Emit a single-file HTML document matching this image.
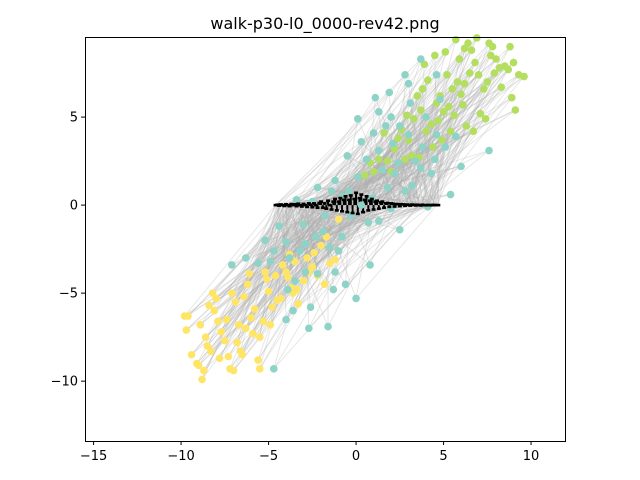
<!DOCTYPE html>
<html><head><meta charset="utf-8"><style>
body{margin:0;background:#fff;}
svg{display:block;font-family:"DejaVu Sans","Liberation Sans",sans-serif;}
</style></head><body>
<svg id="chart" width="640" height="480">
<text x="325" y="29" text-anchor="middle" font-size="16">walk-p30-l0_0000-rev42.png</text>
<g id="lines"></g>
<g id="pts"></g>
<rect x="85.5" y="37.5" width="480" height="404" fill="none" stroke="#000" stroke-width="1"/>
<g id="axes"></g>
</svg>
<script>
const xTicks=[-15,-10,-5,0,5,10];
const yTicks=[5,0,-5,-10];
const yellowX=[-9.8,-9.6,-9.7,-9.1,-9.0,-8.8,-8.7,-8.5,-8.6,-8.3,-8.2,-8.0,-8.1,-7.9,-7.7,-7.5,-7.3,-7.2,-7.0,-6.9,-6.7,-6.6,-6.5,-6.3,-6.2,-6.0,-5.8,-5.6,-5.5,-5.3,-5.2,-5.0,-4.8,-4.5,-4.3,-4.0,-3.9,-3.7,-3.5,-3.3,-3.0,-2.7,-2.5,-2.2,-2.0,-1.8,-1.5,-1.2,-1.7,-3.8,-4.6,-6.8,-7.8,-5.9,-8.9,-6.4,-4.2,-2.8,-1.0,-5.5,-3.4,-7.4,-9.4,-4.9,-2.4,-6.1,-3.6,-5.1,-7.1,-8.4];
const yellowY=[-6.3,-6.3,-7.1,-9.0,-9.1,-9.9,-9.4,-8.0,-7.5,-8.3,-5.0,-5.3,-6.0,-6.6,-7.2,-7.7,-8.6,-9.3,-9.4,-5.5,-6.8,-8.3,-8.5,-7.0,-4.5,-6.4,-5.9,-8.8,-7.5,-6.6,-3.8,-4.9,-5.8,-5.4,-5.3,-3.8,-4.1,-4.7,-3.2,-5.6,-4.3,-3.8,-3.5,-4.0,-2.3,-4.5,-3.3,-3.1,-1.8,-2.8,-4.0,-7.8,-8.7,-7.3,-6.8,-5.2,-3.4,-3.0,-0.8,-9.3,-4.8,-6.5,-8.5,-6.8,-2.7,-3.9,-5.0,-4.2,-5.0,-5.7];
const greenX=[5.7,6.2,6.6,7.6,7.8,8.8,9.3,9.1,8.5,8.2,8.0,7.5,7.3,7.0,6.8,6.5,6.2,6.0,5.8,5.5,5.3,5.0,4.8,4.6,4.3,4.0,3.7,3.5,3.3,3.0,2.8,2.6,2.2,1.8,1.6,1.3,1.0,0.8,0.5,2.4,3.9,4.5,5.1,5.9,6.9,7.9,8.3,9.0,9.6,6.7,7.1,6.3,5.6,4.9,4.4,3.6,3.2,2.0,5.2,4.1,3.8,7.4,8.7,6.1,5.4,2.9,4.7,7.7,6.4,8.9];
const greenY=[9.4,8.9,8.8,9.2,9.0,9.0,7.4,5.4,7.9,7.8,8.3,7.0,6.6,7.4,8.1,7.5,6.9,6.3,7.0,6.6,5.6,5.3,6.2,5.8,4.6,4.2,5.4,6.2,4.9,3.7,2.6,4.3,3.2,2.5,4.1,2.6,1.9,2.4,1.7,3.8,8.0,8.5,8.7,8.3,9.5,7.5,6.7,8.1,7.3,4.2,5.2,4.5,5.1,3.7,3.3,2.7,2.8,1.9,7.4,7.1,6.6,4.9,7.7,5.7,4.2,5.1,4.8,8.5,9.2,6.1];
const tealX=[3.7,2.8,3.0,1.9,1.1,1.3,2.0,2.5,0.1,0.3,1.0,1.7,-0.5,-1.2,-2.2,-3.4,-4.4,-5.2,-4.0,-3.2,-4.9,-5.6,-7.1,-6.3,-3.8,-2.9,-1.9,-0.8,-2.2,-1.3,-2.6,-3.6,-4.0,-2.7,-1.6,-0.6,0.0,0.8,-4.7,-3.5,-1.0,0.7,1.3,2.5,4.1,5.4,4.3,3.7,2.8,1.8,0.4,-0.4,2.2,3.4,4.5,5.1,6.0,7.6,5.7,4.6,3.8,3.0,2.1,1.3,0.6,0.1,1.5,-0.8,-2.5,-1.8,-1.4,-0.3,0.9,2.0,3.2,-3.0,-2.3,-1.5,-2.9,-4.7,-3.9,-1.2,4.0,4.8,3.1,2.4,4.6,0.3];
const tealY=[8.3,7.4,6.9,6.4,6.1,5.3,5.0,4.5,4.9,3.6,4.1,4.5,2.8,1.4,1.0,0.3,-1.2,-2.0,-2.1,-2.6,-3.2,-3.3,-3.4,-3.0,-3.0,-2.2,-1.5,-1.8,-3.9,-4.8,-5.8,-6.0,-6.5,-7.0,-6.9,-4.5,-5.3,-3.4,-9.3,-4.3,-2.6,-1.0,-0.9,-1.4,-0.1,0.6,1.8,2.1,0.8,1.0,0.2,0.8,1.8,2.5,2.6,3.3,2.2,3.1,3.9,4.0,3.3,4.0,3.5,3.1,2.6,1.6,2.0,0.5,0.2,-0.6,0.8,-0.6,0.4,-0.2,1.1,-1.1,-1.8,-2.4,-3.8,-2.6,-4.8,-3.8,5.0,6.0,5.8,2.4,7.4,0.0];
const blackX=[-4.6,-4.5,-4.4,-4.3,-4.2,-4.1,-4.0,-3.9,-3.8,-3.7,-3.6,-3.5,-3.4,-3.3,-3.2,-3.1,-3.0,-2.9,-2.8,-2.7,-2.6,-2.5,-2.4,-2.3,-2.2,-2.1,-2.0,-1.9,-1.8,-1.7,-1.6,-1.5,-1.4,-1.3,-1.2,-1.1,-1.0,-0.9,-0.8,-0.7,-0.6,-0.5,-0.4,-0.3,-0.2,-0.1,0.0,0.1,0.2,0.3,0.4,0.5,0.6,0.7,0.8,0.9,1.0,1.1,1.2,1.3,1.4,1.5,1.6,1.7,1.8,1.9,2.0,2.1,2.2,2.3,2.4,2.5,2.6,2.7,2.8,2.9,3.0,3.1,3.2,3.3,3.4,3.5,3.6,3.7,3.8,3.9,4.0,4.1,4.2,4.3,4.4,4.5,4.6,4.7];
const blackY=[0.0,0.02,-0.03,0.04,0.0,-0.05,0.05,0.0,-0.06,0.06,0.0,0.05,-0.06,0.08,0.0,-0.08,0.07,0.0,-0.1,0.1,0.02,-0.12,0.1,0.0,-0.15,0.12,0.2,-0.15,0.1,-0.2,0.25,0.0,-0.25,0.2,0.35,-0.3,0.2,0.4,-0.35,0.3,0.5,-0.4,0.3,0.55,-0.45,0.35,0.7,-0.5,0.4,0.6,-0.4,0.3,0.5,-0.3,0.25,0.35,-0.25,0.2,0.25,-0.2,0.15,0.2,-0.15,0.1,0.12,-0.1,0.1,0.08,-0.08,0.06,0.05,-0.06,0.05,0.04,-0.04,0.03,0.02,-0.03,0.03,0.02,-0.02,0.02,0.0,-0.02,0.02,0.0,-0.01,0.01,0.0,-0.01,0.01,0.0,0.0,0.0];
const X0=85,X1=565,XMIN=-15.49,XMAX=11.94,Y0=37,Y1=441,YMIN=-13.4,YMAX=9.55;
const sx=v=>X0+(v-XMIN)/(XMAX-XMIN)*(X1-X0);
const sy=v=>Y1-(v-YMIN)/(YMAX-YMIN)*(Y1-Y0);
const NS="http://www.w3.org/2000/svg";
const L=document.getElementById('lines'),P=document.getElementById('pts'),A=document.getElementById('axes');
function mk(t,a,parent){const e=document.createElementNS(NS,t);for(const k in a)e.setAttribute(k,a[k]);parent.appendChild(e);return e;}
const nb=blackX.length;
function series(xs,ys,name,start,span){
  xs.forEach((x,i)=>{
    for(let k=0;k<3;k++){
      const j=start+((i*13+k*29)%span);
      const l=mk('line',{x1:sx(x),y1:sy(ys[i]),x2:sx(blackX[j]),y2:sy(blackY[j]),stroke:'#b0b0b0','stroke-opacity':0.3,'stroke-width':1},L);
      
      
    }
  });
}
series(yellowX,yellowY,'yellow',0,60);
series(greenX,greenY,'green',20,74);
series(tealX,tealY,'teal',0,94);
function dots(xs,ys,col,name,r){
  xs.forEach((x,i)=>{const c=mk('circle',{cx:sx(x),cy:sy(ys[i]),r:r,fill:col},P);
    
    
  });
}
dots(yellowX,yellowY,'#ffe566','yellow',3.8);
dots(greenX,greenY,'#b3de5f','green',3.8);
dots(tealX,tealY,'#8dd3c7','teal',3.8);
blackX.forEach((x,i)=>{
  const c=mk('rect',{x:sx(x)-2,y:sy(blackY[i])-1.3,width:4,height:2.6,fill:'#000'},P);
  
  
  const m=mk('line',{x1:sx(x),y1:sy(blackY[i]),x2:sx(x),y2:sy(0),stroke:'#000','stroke-width':2},P);
  
  
});
const ctr=mk('circle',{cx:sx(0.3),cy:sy(0),r:3.8,fill:'#8dd3c7'},P);


xTicks.forEach(t=>{const x=sx(t);
  const l=mk('line',{x1:x,y1:441,x2:x,y2:445,stroke:'#000'},A);
  
  
  const tx=mk('text',{x:x,y:460,'text-anchor':'middle','font-size':13},A);tx.textContent=t<0?'\u2212'+(-t):t;
  
  
});
yTicks.forEach(t=>{const y=sy(t);
  const l=mk('line',{x1:81,y1:y,x2:85,y2:y,stroke:'#000'},A);
  
  
  const tx=mk('text',{x:78,y:y+4.5,'text-anchor':'end','font-size':13},A);tx.textContent=t<0?'\u2212'+(-t):t;
  
  
});
</script>
</body></html>
